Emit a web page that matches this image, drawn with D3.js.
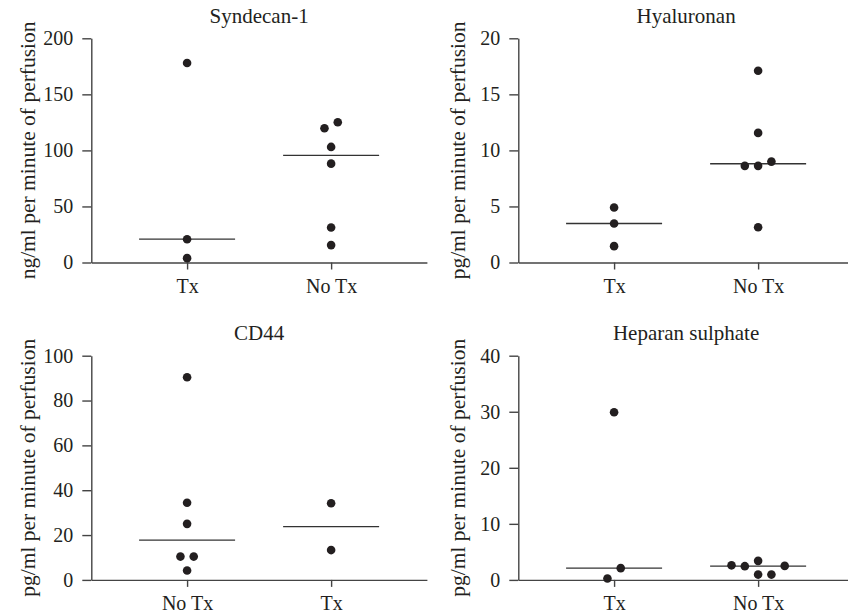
<!DOCTYPE html>
<html>
<head>
<meta charset="utf-8">
<script src="https://cdn.jsdelivr.net/npm/d3@7"></script>
<style>
    body { margin: 0; background: #fff; }
    svg { display: block; background: #fff; }
    svg text { font-family: "Liberation Serif", "DejaVu Serif", serif !important; fill: #231f20; }
    .axis path, .axis line { stroke: #444; stroke-width: 1.4; }
    .axis text { font-size: 20px; }
    .title { font-size: 21px; }
    .y-label { font-size: 21.5px; }
</style>
</head>
<body>
<svg id="svg-chart" width="848" height="616"></svg>
<script>
////////////
/// DATA ///
////////////

const titles = ['Syndecan-1', 'Hyaluronan', 'CD44', 'Heparan sulphate'];
const yLabels = [
    'ng/ml per minute of perfusion',
    'pg/ml per minute of perfusion',
    'pg/ml per minute of perfusion',
    'pg/ml per minute of perfusion'
];
const categories = [['Tx', 'No Tx'], ['Tx', 'No Tx'], ['No Tx', 'Tx'], ['Tx', 'No Tx']];
const yMaxes = [200, 20, 100, 40];
const yTicks = [
    [0, 50, 100, 150, 200],
    [0, 5, 10, 15, 20],
    [0, 20, 40, 60, 80, 100],
    [0, 10, 20, 30, 40]
];

// values per group, in the order they are laid out in the scatter
const syndecanTx = [178, 20.8, 3.9];
const syndecanNoTx = [15.5, 31.2, 88.2, 103.1, 119.8, 125.1];
const hyaluronanTx = [4.9, 3.48, 1.46];
const hyaluronanNoTx = [3.15, 8.62, 9.0, 8.62, 11.56, 17.1];
const cd44NoTx = [4.2, 10.4, 10.4, 25.0, 34.4, 90.4];
const cd44Tx = [13.3, 34.2];
const heparanTx = [0.25, 2.1, 29.9];
const heparanNoTx = [0.95, 0.95, 2.45, 2.5, 2.6, 3.4];

const panelValues = [
    [syndecanTx, syndecanNoTx],
    [hyaluronanTx, hyaluronanNoTx],
    [cd44NoTx, cd44Tx],
    [heparanTx, heparanNoTx]
];

//////////////
/// LAYOUT ///
//////////////

const panelX = [91.3, 518.3];
const panelY = [38.3, 355.7];
const yLabelGap = [56, 53.3];   // axis to rotated label baseline, per column
const plotWidth = 335.6;
const plotHeight = 224.2;
const fontFamily = '"Liberation Serif", "DejaVu Serif", serif';

const dotRadius = 4.3;
const dotSpacing = 13.3;   // horizontal step between dots sharing a row
const collideDist = 12;    // dots closer than this (px, vertical) can't share a slot
const medianHalf = 48;

const svg = d3.select('#svg-chart');

/////////////////////
/// SCATTER SLOTS ///
/////////////////////

// greedy column slots, then each overlapping cluster is centred on the category
function swarmOffsets(ys) {
    const slots = [];
    const tryOrder = [0, 1, -1, 2, -2, 3, -3, 4, -4];
    ys.forEach(function(y) {
        for (const s of tryOrder) {
            const hit = slots.some(function(t, j) {return t === s && Math.abs(ys[j] - y) < collideDist});
            if (!hit) { slots.push(s); break; }
        }
    });

    // clusters: runs of dots whose vertical gaps are below collideDist
    const order = d3.range(ys.length).sort(function(a, b) {return ys[a] - ys[b]});
    let clusters = [];
    let current = [];
    order.forEach(function(i, k) {
        if (k > 0 && ys[i] - ys[order[k-1]] >= collideDist) {
            clusters.push(current);
            current = [];
        }
        current.push(i);
    });
    clusters.push(current);

    const offsets = slots.slice();
    clusters.forEach(function(c) {
        const shift = d3.mean(c, function(i) {return slots[i]});
        c.forEach(function(i) {offsets[i] = (slots[i] - shift) * dotSpacing});
    });
    return offsets;
}

//////////////
/// PANELS ///
//////////////

function drawPanel(p) {
    const col = p % 2;
    const g = svg.append('g')
        .attr('font-family', fontFamily)
        .attr('transform', 'translate(' + panelX[col] + ',' + panelY[Math.floor(p / 2)] + ')');

    const xScale = d3.scalePoint()
        .domain(categories[p])
        .range([0, plotWidth])
        .padding(0.665);

    const yScale = d3.scaleLinear()
        .domain([0, yMaxes[p]])
        .range([plotHeight, 0]);

    // x-axis
    g.append('g')
        .attr('class', 'axis')
        .attr('transform', 'translate(0,' + plotHeight + ')')
        .call(d3.axisBottom(xScale).tickSize(7).tickPadding(9).tickSizeOuter(0))
        .attr('font-family', fontFamily)
        .attr('font-size', 20);

    // y-axis
    g.append('g')
        .attr('class', 'axis')
        .call(d3.axisLeft(yScale).tickValues(yTicks[p]).tickSize(9).tickPadding(9).tickSizeOuter(0))
        .attr('font-family', fontFamily)
        .attr('font-size', 20);

    // y label
    g.append('text')
        .attr('class', 'y-label')
        .attr('text-anchor', 'middle')
        .attr('transform', 'translate(' + (-yLabelGap[col]) + ',' + (plotHeight / 2) + ') rotate(-90)')
        .text(yLabels[p]);

    // title
    g.append('text')
        .attr('class', 'title')
        .attr('text-anchor', 'middle')
        .attr('x', plotWidth / 2)
        .attr('y', -15.6)
        .text(titles[p]);

    // groups: median line + dots
    categories[p].forEach(function(cat, i) {
        const values = panelValues[p][i];
        const cx = xScale(cat);
        const ys = values.map(function(v) {return yScale(v)});
        const offsets = swarmOffsets(ys);
        const med = yScale(d3.median(values));

        g.append('line')
            .attr('x1', cx - medianHalf)
            .attr('x2', cx + medianHalf)
            .attr('y1', med)
            .attr('y2', med)
            .attr('stroke', '#333')
            .attr('stroke-width', 1.3);

        g.append('g')
            .selectAll('circle').data(values).enter()
            .append('circle')
            .attr('cx', function(d, j) {return cx + offsets[j]})
            .attr('cy', function(d, j) {return ys[j]})
            .attr('r', dotRadius)
            .attr('fill', '#231f20');
    });
}

for (let p = 0; p < titles.length; p++) {
    drawPanel(p);
}
</script>
</body>
</html>
